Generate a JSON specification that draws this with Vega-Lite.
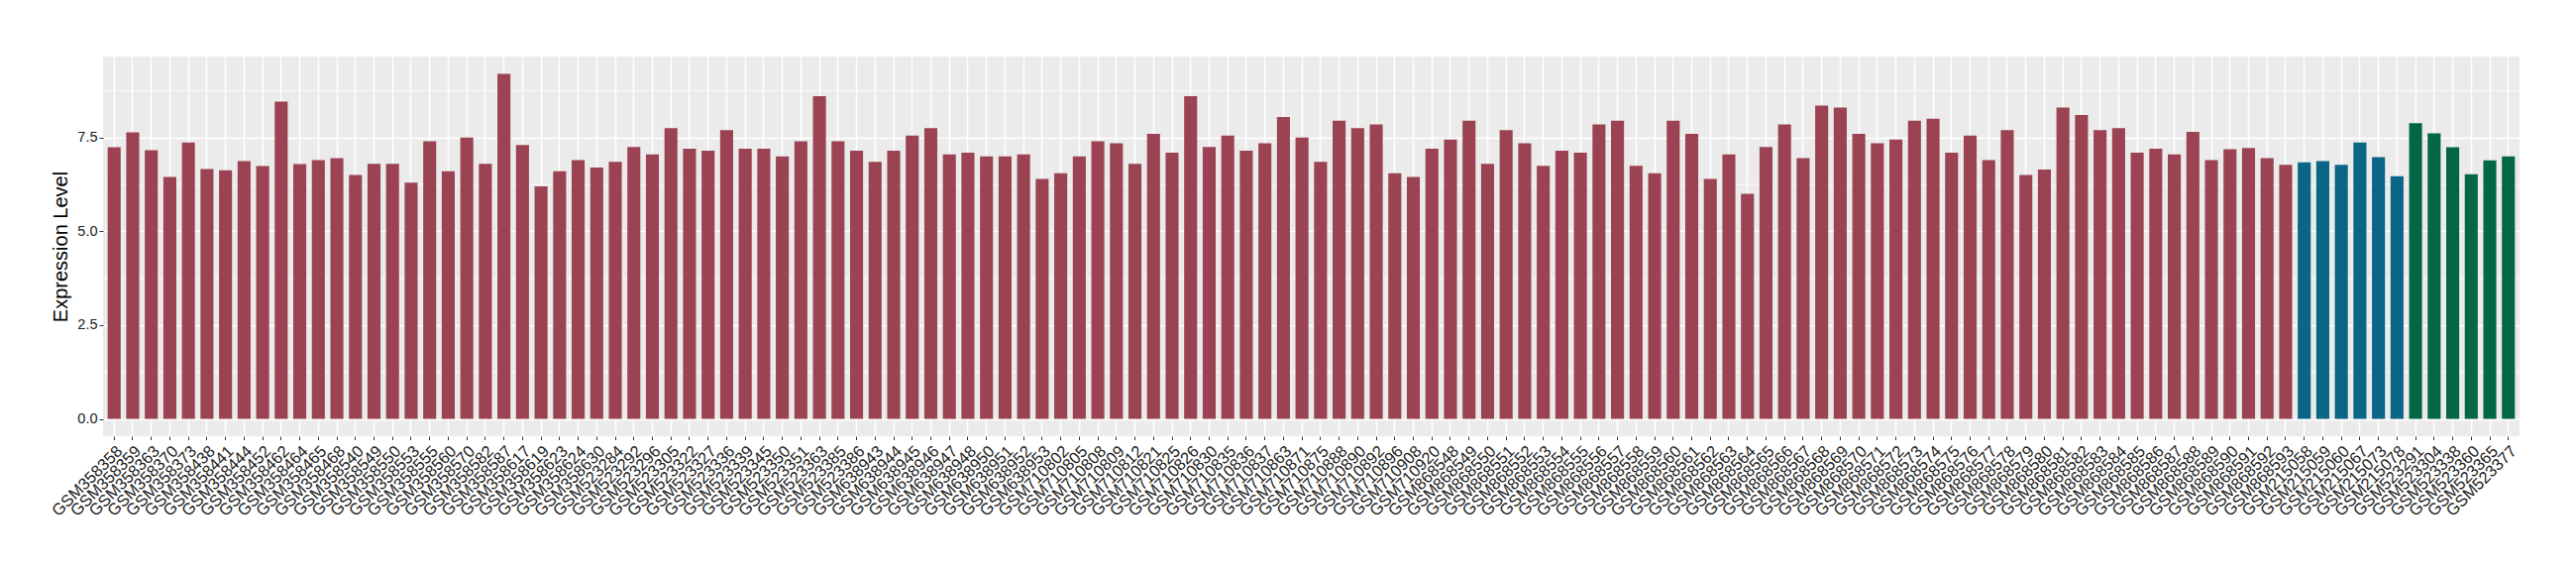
{
 "$schema": "https://vega.github.io/schema/vega-lite/v6.json",
 "width": 2439,
 "height": 383,
 "autosize": {"type": "none"},
 "padding": {"left": 104, "top": 57, "right": 57, "bottom": 140},
 "background": "white",
 "config": {"view": {"fill": "#EBEBEB", "stroke": null}, "font": "Liberation Sans"},
 "datasets": {
  "minor": [{"m": 1.25}, {"m": 3.75}, {"m": 6.25}, {"m": 8.75}],
  "expr": [
   {"sample": "GSM358358", "value": 7.24, "group": "Group 1"},
   {"sample": "GSM358359", "value": 7.64, "group": "Group 1"},
   {"sample": "GSM358363", "value": 7.16, "group": "Group 1"},
   {"sample": "GSM358370", "value": 6.45, "group": "Group 1"},
   {"sample": "GSM358373", "value": 7.37, "group": "Group 1"},
   {"sample": "GSM358438", "value": 6.66, "group": "Group 1"},
   {"sample": "GSM358441", "value": 6.63, "group": "Group 1"},
   {"sample": "GSM358444", "value": 6.87, "group": "Group 1"},
   {"sample": "GSM358452", "value": 6.74, "group": "Group 1"},
   {"sample": "GSM358462", "value": 8.46, "group": "Group 1"},
   {"sample": "GSM358464", "value": 6.79, "group": "Group 1"},
   {"sample": "GSM358465", "value": 6.9, "group": "Group 1"},
   {"sample": "GSM358468", "value": 6.95, "group": "Group 1"},
   {"sample": "GSM358540", "value": 6.5, "group": "Group 1"},
   {"sample": "GSM358549", "value": 6.8, "group": "Group 1"},
   {"sample": "GSM358550", "value": 6.8, "group": "Group 1"},
   {"sample": "GSM358553", "value": 6.3, "group": "Group 1"},
   {"sample": "GSM358555", "value": 7.4, "group": "Group 1"},
   {"sample": "GSM358560", "value": 6.6, "group": "Group 1"},
   {"sample": "GSM358570", "value": 7.5, "group": "Group 1"},
   {"sample": "GSM358582", "value": 6.8, "group": "Group 1"},
   {"sample": "GSM358587", "value": 9.2, "group": "Group 1"},
   {"sample": "GSM358617", "value": 7.3, "group": "Group 1"},
   {"sample": "GSM358619", "value": 6.2, "group": "Group 1"},
   {"sample": "GSM358623", "value": 6.6, "group": "Group 1"},
   {"sample": "GSM358624", "value": 6.9, "group": "Group 1"},
   {"sample": "GSM358630", "value": 6.7, "group": "Group 1"},
   {"sample": "GSM523284", "value": 6.85, "group": "Group 1"},
   {"sample": "GSM523292", "value": 7.25, "group": "Group 1"},
   {"sample": "GSM523296", "value": 7.05, "group": "Group 1"},
   {"sample": "GSM523305", "value": 7.75, "group": "Group 1"},
   {"sample": "GSM523322", "value": 7.2, "group": "Group 1"},
   {"sample": "GSM523327", "value": 7.15, "group": "Group 1"},
   {"sample": "GSM523336", "value": 7.7, "group": "Group 1"},
   {"sample": "GSM523339", "value": 7.2, "group": "Group 1"},
   {"sample": "GSM523345", "value": 7.2, "group": "Group 1"},
   {"sample": "GSM523350", "value": 7.0, "group": "Group 1"},
   {"sample": "GSM523351", "value": 7.4, "group": "Group 1"},
   {"sample": "GSM523363", "value": 8.6, "group": "Group 1"},
   {"sample": "GSM523385", "value": 7.4, "group": "Group 1"},
   {"sample": "GSM523386", "value": 7.15, "group": "Group 1"},
   {"sample": "GSM638943", "value": 6.85, "group": "Group 1"},
   {"sample": "GSM638944", "value": 7.15, "group": "Group 1"},
   {"sample": "GSM638945", "value": 7.55, "group": "Group 1"},
   {"sample": "GSM638946", "value": 7.75, "group": "Group 1"},
   {"sample": "GSM638947", "value": 7.05, "group": "Group 1"},
   {"sample": "GSM638948", "value": 7.1, "group": "Group 1"},
   {"sample": "GSM638950", "value": 7.0, "group": "Group 1"},
   {"sample": "GSM638951", "value": 7.0, "group": "Group 1"},
   {"sample": "GSM638952", "value": 7.05, "group": "Group 1"},
   {"sample": "GSM638953", "value": 6.4, "group": "Group 1"},
   {"sample": "GSM710802", "value": 6.55, "group": "Group 1"},
   {"sample": "GSM710805", "value": 7.0, "group": "Group 1"},
   {"sample": "GSM710808", "value": 7.4, "group": "Group 1"},
   {"sample": "GSM710809", "value": 7.35, "group": "Group 1"},
   {"sample": "GSM710812", "value": 6.8, "group": "Group 1"},
   {"sample": "GSM710821", "value": 7.6, "group": "Group 1"},
   {"sample": "GSM710825", "value": 7.1, "group": "Group 1"},
   {"sample": "GSM710826", "value": 8.6, "group": "Group 1"},
   {"sample": "GSM710830", "value": 7.25, "group": "Group 1"},
   {"sample": "GSM710835", "value": 7.55, "group": "Group 1"},
   {"sample": "GSM710836", "value": 7.15, "group": "Group 1"},
   {"sample": "GSM710837", "value": 7.35, "group": "Group 1"},
   {"sample": "GSM710863", "value": 8.05, "group": "Group 1"},
   {"sample": "GSM710871", "value": 7.5, "group": "Group 1"},
   {"sample": "GSM710875", "value": 6.85, "group": "Group 1"},
   {"sample": "GSM710888", "value": 7.95, "group": "Group 1"},
   {"sample": "GSM710890", "value": 7.75, "group": "Group 1"},
   {"sample": "GSM710892", "value": 7.85, "group": "Group 1"},
   {"sample": "GSM710896", "value": 6.55, "group": "Group 1"},
   {"sample": "GSM710908", "value": 6.45, "group": "Group 1"},
   {"sample": "GSM710920", "value": 7.2, "group": "Group 1"},
   {"sample": "GSM868548", "value": 7.45, "group": "Group 1"},
   {"sample": "GSM868549", "value": 7.95, "group": "Group 1"},
   {"sample": "GSM868550", "value": 6.8, "group": "Group 1"},
   {"sample": "GSM868551", "value": 7.7, "group": "Group 1"},
   {"sample": "GSM868552", "value": 7.35, "group": "Group 1"},
   {"sample": "GSM868553", "value": 6.75, "group": "Group 1"},
   {"sample": "GSM868554", "value": 7.15, "group": "Group 1"},
   {"sample": "GSM868555", "value": 7.1, "group": "Group 1"},
   {"sample": "GSM868556", "value": 7.85, "group": "Group 1"},
   {"sample": "GSM868557", "value": 7.95, "group": "Group 1"},
   {"sample": "GSM868558", "value": 6.75, "group": "Group 1"},
   {"sample": "GSM868559", "value": 6.55, "group": "Group 1"},
   {"sample": "GSM868560", "value": 7.95, "group": "Group 1"},
   {"sample": "GSM868561", "value": 7.6, "group": "Group 1"},
   {"sample": "GSM868562", "value": 6.4, "group": "Group 1"},
   {"sample": "GSM868563", "value": 7.05, "group": "Group 1"},
   {"sample": "GSM868564", "value": 6.0, "group": "Group 1"},
   {"sample": "GSM868565", "value": 7.25, "group": "Group 1"},
   {"sample": "GSM868566", "value": 7.85, "group": "Group 1"},
   {"sample": "GSM868567", "value": 6.95, "group": "Group 1"},
   {"sample": "GSM868568", "value": 8.35, "group": "Group 1"},
   {"sample": "GSM868569", "value": 8.3, "group": "Group 1"},
   {"sample": "GSM868570", "value": 7.6, "group": "Group 1"},
   {"sample": "GSM868571", "value": 7.35, "group": "Group 1"},
   {"sample": "GSM868572", "value": 7.45, "group": "Group 1"},
   {"sample": "GSM868573", "value": 7.95, "group": "Group 1"},
   {"sample": "GSM868574", "value": 8.0, "group": "Group 1"},
   {"sample": "GSM868575", "value": 7.1, "group": "Group 1"},
   {"sample": "GSM868576", "value": 7.55, "group": "Group 1"},
   {"sample": "GSM868577", "value": 6.9, "group": "Group 1"},
   {"sample": "GSM868578", "value": 7.7, "group": "Group 1"},
   {"sample": "GSM868579", "value": 6.5, "group": "Group 1"},
   {"sample": "GSM868580", "value": 6.65, "group": "Group 1"},
   {"sample": "GSM868581", "value": 8.3, "group": "Group 1"},
   {"sample": "GSM868582", "value": 8.1, "group": "Group 1"},
   {"sample": "GSM868583", "value": 7.7, "group": "Group 1"},
   {"sample": "GSM868584", "value": 7.75, "group": "Group 1"},
   {"sample": "GSM868585", "value": 7.1, "group": "Group 1"},
   {"sample": "GSM868586", "value": 7.2, "group": "Group 1"},
   {"sample": "GSM868587", "value": 7.05, "group": "Group 1"},
   {"sample": "GSM868588", "value": 7.65, "group": "Group 1"},
   {"sample": "GSM868589", "value": 6.9, "group": "Group 1"},
   {"sample": "GSM868590", "value": 7.19, "group": "Group 1"},
   {"sample": "GSM868591", "value": 7.22, "group": "Group 1"},
   {"sample": "GSM868592", "value": 6.95, "group": "Group 1"},
   {"sample": "GSM868593", "value": 6.77, "group": "Group 1"},
   {"sample": "GSM215058", "value": 6.84, "group": "Group 2"},
   {"sample": "GSM215059", "value": 6.87, "group": "Group 2"},
   {"sample": "GSM215060", "value": 6.77, "group": "Group 2"},
   {"sample": "GSM215067", "value": 7.37, "group": "Group 2"},
   {"sample": "GSM215073", "value": 6.98, "group": "Group 2"},
   {"sample": "GSM215078", "value": 6.47, "group": "Group 2"},
   {"sample": "GSM523291", "value": 7.88, "group": "Group 3"},
   {"sample": "GSM523304", "value": 7.61, "group": "Group 3"},
   {"sample": "GSM523338", "value": 7.24, "group": "Group 3"},
   {"sample": "GSM523360", "value": 6.52, "group": "Group 3"},
   {"sample": "GSM523365", "value": 6.89, "group": "Group 3"},
   {"sample": "GSM523377", "value": 7.0, "group": "Group 3"}
  ]
 },
 "layer": [
  {
   "data": {"name": "minor"},
   "mark": {"type": "rule", "color": "white", "strokeWidth": 0.8},
   "encoding": {
    "y": {"field": "m", "type": "quantitative", "scale": {"domain": [-0.46, 9.66], "nice": false, "zero": false},
     "axis": {"title": "Expression Level", "titleFontSize": 20, "titleFontWeight": "normal", "titleColor": "black", "titlePadding": 6, "values": [0, 2.5, 5, 7.5], "format": ".1f", "labelFontSize": 14.5, "labelColor": "#222222", "labelPadding": 2, "tickColor": "#333333", "tickSize": 4, "domain": false, "grid": true, "gridColor": "white", "gridWidth": 1.5}}
   }
  },
  {
   "data": {"name": "expr"},
   "mark": {"type": "bar"},
   "encoding": {
    "x": {"field": "sample", "type": "nominal", "sort": null, "scale": {"paddingInner": 0.3, "paddingOuter": 0.25},
     "axis": {"title": null, "labelAngle": -45, "labelAlign": "right", "labelBaseline": "top", "labelFontSize": 16.5, "labelColor": "#222222", "labelPadding": 3, "labelOverlap": false, "tickColor": "#333333", "tickSize": 3.5, "domain": false, "grid": true, "gridColor": "white", "gridWidth": 1.5, "bandPosition": 0.5}},
    "y": {"field": "value", "type": "quantitative", "scale": {"domain": [-0.46, 9.66], "nice": false, "zero": false},
     "axis": {"title": "Expression Level", "titleFontSize": 20, "titleFontWeight": "normal", "titleColor": "black", "titlePadding": 6, "values": [0, 2.5, 5, 7.5], "format": ".1f", "labelFontSize": 14.5, "labelColor": "#222222", "labelPadding": 2, "tickColor": "#333333", "tickSize": 4, "domain": false, "grid": true, "gridColor": "white", "gridWidth": 1.5}},
    "y2": {"datum": 0},
    "color": {"field": "group", "type": "nominal", "scale": {"domain": ["Group 1", "Group 2", "Group 3"], "range": ["#9B4352", "#0A6587", "#036745"]}, "legend": null}
   }
  }
 ]
}
